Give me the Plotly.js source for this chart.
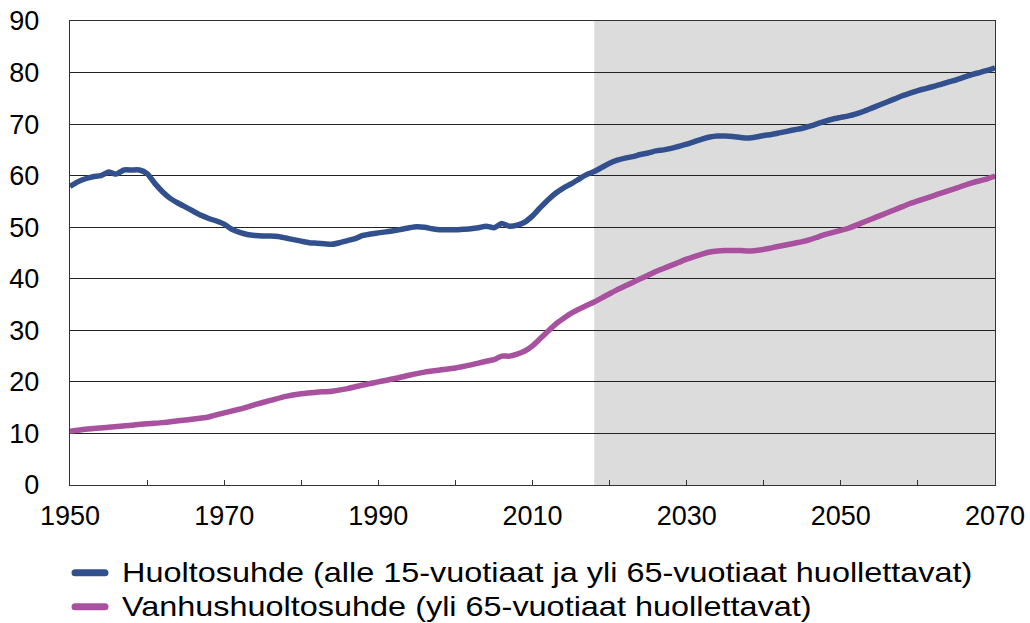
<!DOCTYPE html>
<html>
<head>
<meta charset="utf-8">
<script src="https://cdn.plot.ly/plotly-3.0.1.min.js"></script>
<style>html,body{margin:0;padding:0;background:#fff;}#chart{width:1030px;height:623px;}</style>
</head>
<body>
<div id="chart"></div>
<script>
const seriesNames = [
  "Huoltosuhde (alle 15-vuotiaat ja yli 65-vuotiaat huollettavat)",
  "Vanhushuoltosuhde (yli 65-vuotiaat huollettavat)"
];
const yearsTotal = [1950,1951,1952,1953,1954,1955,1956,1957,1958,1959,1960,1961,1962,1963,1964,1965,1966,1967,1968,1969,1970,1971,1972,1973,1974,1975,1976,1977,1978,1979,1980,1981,1982,1983,1984,1985,1986,1987,1988,1989,1990,1991,1992,1993,1994,1995,1996,1997,1998,1999,2000,2001,2002,2003,2004,2005,2006,2007,2008,2009,2010,2011,2012,2013,2014,2015,2016,2017,2018,2019,2020,2021,2022,2023,2024,2025,2026,2027,2028,2029,2030,2031,2032,2033,2034,2035,2036,2037,2038,2039,2040,2041,2042,2043,2044,2045,2046,2047,2048,2049,2050,2051,2052,2053,2054,2055,2056,2057,2058,2059,2060,2061,2062,2063,2064,2065,2066,2067,2068,2069,2070];
const totalRatio = [57.9,58.8,59.4,59.8,60.0,60.7,60.3,61.1,61.1,61.1,60.4,58.5,56.9,55.6,54.7,53.9,53.1,52.3,51.7,51.2,50.6,49.6,49.0,48.6,48.4,48.3,48.3,48.2,47.9,47.6,47.3,47.0,46.9,46.8,46.7,47.0,47.4,47.8,48.4,48.7,48.9,49.1,49.3,49.6,49.9,50.1,50.0,49.7,49.5,49.5,49.5,49.6,49.7,49.9,50.2,49.9,50.7,50.2,50.4,51.0,52.2,53.8,55.3,56.6,57.6,58.4,59.3,60.2,60.8,61.6,62.4,63.0,63.4,63.7,64.1,64.4,64.8,65.0,65.3,65.7,66.1,66.6,67.1,67.5,67.7,67.7,67.6,67.4,67.3,67.5,67.8,68.0,68.3,68.6,68.9,69.2,69.6,70.1,70.6,71.0,71.3,71.6,72.0,72.5,73.1,73.7,74.3,74.9,75.5,76.0,76.5,76.9,77.3,77.7,78.2,78.6,79.1,79.6,80.0,80.4,80.9];
const yearsOld = [1950,1952,1955,1958,1960,1962,1965,1968,1970,1972,1974,1976,1978,1980,1982,1984,1986,1988,1990,1992,1994,1996,1998,2000,2002,2004,2005,2006,2007,2008,2009,2010,2011,2012,2013,2014,2015,2016,2017,2018,2019,2020,2021,2022,2023,2024,2025,2026,2027,2028,2029,2030,2031,2032,2033,2034,2035,2036,2037,2038,2039,2040,2041,2042,2043,2044,2045,2046,2047,2048,2049,2050,2051,2052,2053,2054,2055,2056,2057,2058,2059,2060,2061,2062,2063,2064,2065,2066,2067,2068,2069,2070];
const oldRatio = [10.4,10.8,11.2,11.6,11.9,12.1,12.6,13.2,14.0,14.7,15.6,16.4,17.2,17.7,18.0,18.2,18.7,19.4,20.0,20.6,21.3,21.9,22.3,22.7,23.3,24.0,24.3,25.0,25.0,25.4,26.0,27.0,28.4,29.8,31.2,32.3,33.3,34.1,34.8,35.5,36.3,37.1,37.9,38.6,39.3,40.0,40.7,41.4,42.0,42.6,43.2,43.8,44.3,44.8,45.2,45.4,45.5,45.5,45.5,45.4,45.5,45.7,46.0,46.3,46.6,46.9,47.2,47.6,48.1,48.6,49.0,49.4,49.8,50.4,51.0,51.6,52.2,52.8,53.4,54.0,54.6,55.1,55.6,56.1,56.6,57.1,57.6,58.1,58.6,59.0,59.4,59.9];
const forecastStart = 2018;
const forecastEnd = 2070;
const xTickVals = [1950,1970,1990,2010,2030,2050,2070];
const yTickVals = [0,10,20,30,40,50,60,70,80,90];

const font = "Liberation Sans, Arial, sans-serif";
const traces = [
  {x: yearsTotal, y: totalRatio, name: seriesNames[0], type: "scatter", mode: "lines", legend: "legend",
   line: {color: "#33508e", width: 5.5, shape: "spline", smoothing: 0.6}},
  {x: yearsOld, y: oldRatio, name: seriesNames[1], type: "scatter", mode: "lines", legend: "legend2",
   line: {color: "#a8519e", width: 5.5, shape: "spline", smoothing: 0.6}}
];
const legendFont = {family: font, size: 28, color: "#000"};
const layout = {
  width: 1030, height: 623,
  margin: {l: 70, r: 35, t: 21, b: 138, autoexpand: false},
  paper_bgcolor: "#fff", plot_bgcolor: "#fff",
  font: {family: font, size: 27, color: "#000"},
  showlegend: true,
  legend: {x: 0, y: -0.1897, xanchor: "left", yanchor: "middle", orientation: "v",
           font: legendFont, bgcolor: "rgba(0,0,0,0)"},
  legend2: {x: 0, y: -0.2629, xanchor: "left", yanchor: "middle", orientation: "v",
           font: legendFont, bgcolor: "rgba(0,0,0,0)"},
  xaxis: {range: [1950, 2070], tickvals: xTickVals, ticktext: xTickVals.map(String),
          ticks: "inside", ticklen: 5, tickcolor: "#333", tickwidth: 1,
          minor: {dtick: 10, tick0: 1950, ticks: "inside", ticklen: 5, tickcolor: "#333", showgrid: false},
          showgrid: false, zeroline: false, showline: true, linecolor: "#333", linewidth: 1.3, mirror: true,
          tickfont: {family: font, size: 27, color: "#000"}, ticklabelstandoff: 6, fixedrange: true},
  yaxis: {range: [0, 90], tickvals: yTickVals, ticks: "", showgrid: true, gridcolor: "#222", gridwidth: 1,
          zeroline: false, showline: true, linecolor: "#333", linewidth: 1.3, mirror: true,
          tickfont: {family: font, size: 27, color: "#000"}, ticklabelstandoff: 24, fixedrange: true},
  shapes: [{type: "rect", xref: "x", yref: "y", x0: forecastStart, x1: forecastEnd, y0: 0, y1: 90,
            fillcolor: "#dcdcdc", line: {width: 0}, layer: "below"}]
};

const gdEl = document.getElementById("chart");
function styleLegends() {
  // widen legend text horizontally like the reference, and thicken legend swatches
  gdEl.querySelectorAll("g.legend, g.legend2").forEach(function (lg) {
    lg.querySelectorAll("[clip-path]").forEach(function (e) { e.removeAttribute("clip-path"); });
  });
  gdEl.querySelectorAll("text.legendtext, text.legend2text").forEach(function (t) {
    const x = parseFloat(t.getAttribute("x")) || 0;
    const tr = "translate(" + (x + 12) + ",-2) scale(1.158,1) translate(" + (-x) + ",0)";
    if (t.getAttribute("transform") !== tr) t.setAttribute("transform", tr);
  });
  gdEl.querySelectorAll(".legendlines path").forEach(function (p) {
    if (p.style.strokeWidth !== "7px") p.style.strokeWidth = "7px";
    if (p.style.strokeLinecap !== "round") p.style.strokeLinecap = "round";
  });
}
let pending = false;
const observer = new MutationObserver(function () {
  if (pending) return;
  pending = true;
  Promise.resolve().then(function () { pending = false; styleLegends(); });
});
observer.observe(gdEl, {childList: true, subtree: true, attributes: true, attributeFilter: ["x", "clip-path", "style"]});
let ticksLeft = 100;
const iv = setInterval(function () { styleLegends(); if (--ticksLeft <= 0) clearInterval(iv); }, 20);
Plotly.newPlot(gdEl, traces, layout, {displayModeBar: false, staticPlot: true}).then(function (gd) {
  styleLegends();
  gd.on("plotly_afterplot", styleLegends);
});
</script>
</body>
</html>
